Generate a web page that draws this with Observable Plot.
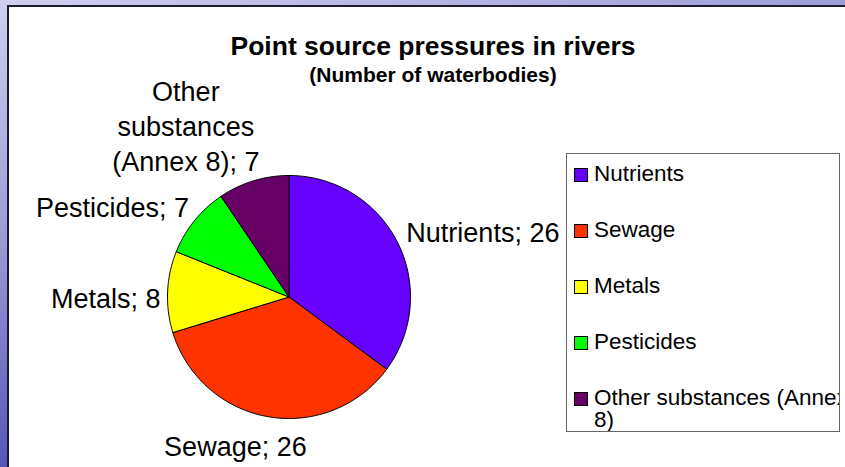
<!DOCTYPE html>
<html>
<head>
<meta charset="utf-8">
<script src="https://cdn.jsdelivr.net/npm/d3@7"></script>
<script src="https://cdn.jsdelivr.net/npm/@observablehq/plot@0.6"></script>
<style>
  html, body { margin: 0; padding: 0; width: 845px; height: 467px; overflow: hidden; }
  body {
    position: relative;
    font-family: "Liberation Sans", Arial, sans-serif;
    background: linear-gradient(165deg, #cfcff0 0%, #9a9ad8 35%, #5050b4 70%, #24249a 100%);
  }
  #panel {
    position: absolute; left: 7px; top: 5px; width: 860px; height: 480px;
    background: #fff; border-left: 2px solid #1c1c2c; border-top: 2px solid #1c1c2c;
  }
  #chart { position: absolute; left: 0; top: 0; }
  .title { position: absolute; left: 0; width: 866px; text-align: center; font-weight: bold; color: #000; white-space: nowrap; }
  #t1 { top: 33px; font-size: 26.5px; line-height: 26px; }
  #t2 { top: 64px; font-size: 21px; line-height: 21px; }
  #legend {
    position: absolute; left: 566px; top: 153px; width: 274px; height: 279px;
    border: 1px solid #666; background: #fff; overflow: hidden; box-sizing: border-box;
  }
  .entry { position: absolute; left: 7px; font-size: 22.5px; line-height: 22px; color: #000; }
  .sw { position: absolute; left: 0; top: 3px; width: 12px; height: 12px; border: 1px solid #000; }
  .lab { position: absolute; left: 20px; top: -2px; width: 256px; }
</style>
</head>
<body>
<div id="panel"></div>
<div id="chart"></div>
<div class="title" id="t1">Point source pressures in rivers</div>
<div class="title" id="t2">(Number of waterbodies)</div>
<div id="legend"></div>
<script>
// ---- data ----
const categories = ["Nutrients", "Sewage", "Metals", "Pesticides", "Other substances (Annex 8)"];
const values = [26, 26, 8, 7, 7];

// ---- style / layout config ----
const sliceColors = ["#6600ff", "#ff3300", "#ffff00", "#00ff00", "#660066"];
const W = 845, H = 467;
const CX = 288.5, CY = 296.5, R = 121.5;
const labelLayout = {
  "Nutrients": {anchor: "start", dx: -2, dy: -6, lineAnchor: "middle"},
  "Sewage": {anchor: "middle", dx: -31, dy: 16, lineAnchor: "middle"},
  "Metals": {anchor: "end", dx: 5, dy: 5, lineAnchor: "middle"},
  "Pesticides": {anchor: "end", dx: 4, dy: -7, lineAnchor: "middle"},
  "Other substances (Annex 8)": {anchor: "middle", dx: -64, dy: 2, lineAnchor: "bottom"}
};

function wrap(s, max) {
  const words = s.split(" ");
  const lines = [];
  let cur = "";
  for (const w of words) {
    if (cur && (cur + " " + w).length > max) { lines.push(cur); cur = w; }
    else cur = cur ? cur + " " + w : w;
  }
  if (cur) lines.push(cur);
  return lines.join("\n");
}

const total = d3.sum(values);
let acc = 0;
const slices = categories.map((c, i) => {
  const a0 = acc / total * 2 * Math.PI;
  acc += values[i];
  const a1 = acc / total * 2 * Math.PI;
  return {category: c, value: values[i], a0, a1, mid: (a0 + a1) / 2};
});

const pts = slices.flatMap(s => {
  const n = Math.max(2, Math.ceil((s.a1 - s.a0) / (Math.PI / 180)));
  const arr = [{category: s.category, x: 0, y: 0}];
  for (let k = 0; k <= n; k++) {
    const a = s.a0 + (s.a1 - s.a0) * k / n;
    arr.push({category: s.category, x: Math.sin(a), y: Math.cos(a)});
  }
  arr.push({category: s.category, x: 0, y: 0});
  return arr;
});

const labelMarks = slices.map(s => {
  const L = labelLayout[s.category];
  const full = `${s.category}; ${s.value}`;
  const text = full.length > 15 ? wrap(full, 12) : full;
  return Plot.text([s], {
    x: d => 1.1 * Math.sin(d.mid) + L.dx / R,
    y: d => 1.1 * Math.cos(d.mid) - L.dy / R,
    text: () => text,
    textAnchor: L.anchor,
    lineAnchor: L.lineAnchor,
    lineHeight: 1.3,
    fontSize: 27,
    fontFamily: "Liberation Sans, Arial, sans-serif",
    fill: "#000"
  });
});

const chart = Plot.plot({
  width: W, height: H,
  marginTop: 0, marginRight: 0, marginBottom: 0, marginLeft: 0,
  style: {background: "transparent", overflow: "visible"},
  x: {domain: [-CX / R, (W - CX) / R], axis: null},
  y: {domain: [-(H - CY) / R, CY / R], axis: null},
  color: {domain: categories, range: sliceColors},
  marks: [
    Plot.line(pts, {x: "x", y: "y", z: "category", fill: "category", stroke: "#000", strokeWidth: 1, curve: "linear"}),
    ...labelMarks
  ]
});
document.getElementById("chart").appendChild(chart);

// legend built from the same categories and the plot's colour scale
const color = chart.scale("color");
const legend = document.getElementById("legend");
categories.forEach((c, i) => {
  const e = document.createElement("div");
  e.className = "entry";
  e.style.top = (11 + 56 * i) + "px";
  const sw = document.createElement("div");
  sw.className = "sw";
  sw.style.background = color.apply(c);
  const lab = document.createElement("div");
  lab.className = "lab";
  lab.textContent = c;
  e.appendChild(sw); e.appendChild(lab);
  legend.appendChild(e);
});
</script>
</body>
</html>
